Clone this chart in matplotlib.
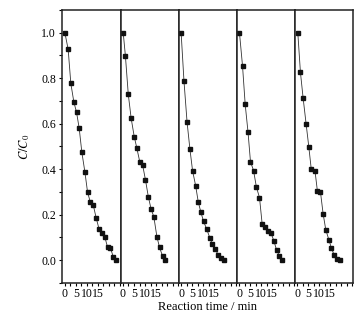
import matplotlib.pyplot as plt
from matplotlib.ticker import FixedLocator, MultipleLocator

plt.rcParams['font.family'] = ['Liberation Serif', 'DejaVu Serif']
plt.rcParams['mathtext.fontset'] = 'stix'

# reaction time (min) and C/C0 for five consecutive cycles
t1 = [0, 1.5, 2.7, 4.1, 5.3, 6.5, 7.7, 9.1, 10.3, 11.5, 12.9, 14.2, 15.5, 16.8, 18.2, 19.4, 20.6, 22.0, 23.2]
c1 = [1.0, 0.926, 0.777, 0.694, 0.650, 0.580, 0.475, 0.387, 0.299, 0.257, 0.242, 0.186,
      0.138, 0.121, 0.100, 0.056, 0.055, 0.015, 0.002]

t2 = [0.1, 1.1, 2.4, 3.7, 5.1, 6.3, 7.6, 8.9, 10.2, 11.5, 12.8, 14.0, 15.4, 16.6, 18.0, 19.2]
c2 = [1.0, 0.897, 0.729, 0.624, 0.543, 0.492, 0.433, 0.419, 0.353, 0.279, 0.223, 0.191,
      0.103, 0.056, 0.017, 0.002]

t3 = [0, 1.3, 2.7, 4.0, 5.2, 6.6, 7.8, 9.0, 10.2, 11.6, 13.0, 14.2, 15.6, 16.8, 18.0, 19.3]
c3 = [1.0, 0.787, 0.607, 0.488, 0.393, 0.327, 0.255, 0.210, 0.170, 0.137, 0.099, 0.069,
      0.047, 0.024, 0.011, 0.002]

t4 = [0.1, 1.5, 2.7, 4.0, 5.1, 6.5, 7.8, 9.2, 10.4, 11.8, 13.2, 14.4, 15.7, 17.0, 18.2, 19.5]
c4 = [1.0, 0.853, 0.685, 0.562, 0.433, 0.394, 0.321, 0.275, 0.160, 0.144, 0.129, 0.119,
      0.086, 0.043, 0.020, 0.002]

t5 = [0.2, 1.4, 2.6, 4.0, 5.2, 6.3, 8.0, 9.1, 10.5, 11.7, 12.9, 14.3, 15.5, 16.7, 18.1, 19.3]
c5 = [1.0, 0.825, 0.714, 0.597, 0.498, 0.401, 0.393, 0.304, 0.299, 0.204, 0.134, 0.090,
      0.052, 0.023, 0.004, 0.002]

cycles = [(t1, c1), (t2, c2), (t3, c3), (t4, c4), (t5, c5)]
xticks = [0, 5, 10, 15, 20, 25]
xticklabels = ['0', '5', '10', '15', '', '']

fig, axes = plt.subplots(1, 5, sharey=True, figsize=(3.61, 3.2), dpi=100)
fig.subplots_adjust(left=0.173, right=0.978, top=0.969, bottom=0.116, wspace=0)

for i, (ax, (t, c)) in enumerate(zip(axes, cycles)):
    ax.plot(t, c, '-', color='#333333', lw=0.6, marker='s', ms=3.2,
            mfc='#111111', mec='#111111')
    ax.set_xlim(-1.1, 25.3)
    ax.set_ylim(-0.1, 1.1)
    ax.xaxis.set_major_locator(FixedLocator(xticks))
    ax.set_xticklabels(xticklabels)
    ax.xaxis.set_minor_locator(MultipleLocator(2.5))
    ax.tick_params(axis='x', which='both', direction='out', length=2.5, width=0.8,
                   labelsize=8.5, pad=1.5)
    for s in ax.spines.values():
        s.set_linewidth(1.1)
        s.set_color('#222222')
    if i == 0:
        ax.yaxis.set_major_locator(MultipleLocator(0.2))
        ax.yaxis.set_minor_locator(MultipleLocator(0.1))
        ax.tick_params(axis='y', which='both', direction='out', length=2.5, width=0.8,
                       labelsize=8.5, pad=2)
        ax.set_yticklabels([f'{v:.1f}' for v in ax.get_yticks()])
        ax.set_ylim(-0.1, 1.1)
    else:
        ax.tick_params(axis='y', which='both', left=False, labelleft=False)

fig.text(0.069, 0.54, r'$C/C_0$', rotation=90, ha='center', va='center', fontsize=9)
fig.text(0.575, 0.04, 'Reaction time / min', ha='center', va='center', fontsize=9)

plt.savefig('out.png', dpi=100)
